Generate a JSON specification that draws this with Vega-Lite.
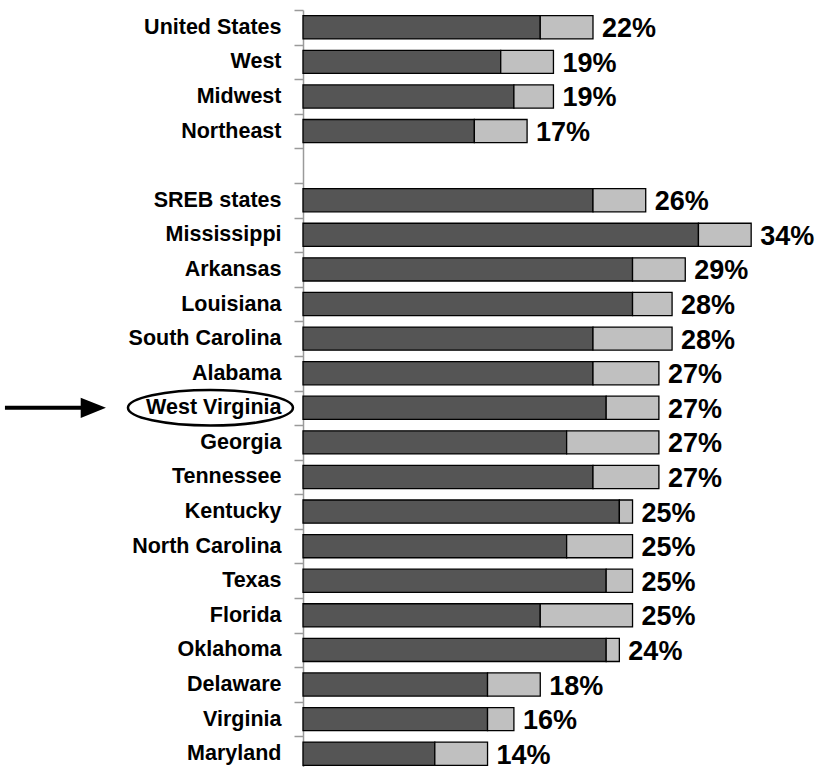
{
  "$schema": "https://vega.github.io/schema/vega-lite/v6.json",
  "autosize": "none",
  "padding": {"left": 303, "top": 10, "right": 0, "bottom": 0},
  "width": 515,
  "height": 757,
  "background": "white",
  "config": {
    "view": {"stroke": null},
    "font": "Liberation Sans"
  },
  "datasets": {
    "parts": [
      {"state": "United States", "part": "dark", "value": 18},
      {"state": "United States", "part": "light", "value": 4},
      {"state": "West", "part": "dark", "value": 15},
      {"state": "West", "part": "light", "value": 4},
      {"state": "Midwest", "part": "dark", "value": 16},
      {"state": "Midwest", "part": "light", "value": 3},
      {"state": "Northeast", "part": "dark", "value": 13},
      {"state": "Northeast", "part": "light", "value": 4},
      {"state": "SREB states", "part": "dark", "value": 22},
      {"state": "SREB states", "part": "light", "value": 4},
      {"state": "Mississippi", "part": "dark", "value": 30},
      {"state": "Mississippi", "part": "light", "value": 4},
      {"state": "Arkansas", "part": "dark", "value": 25},
      {"state": "Arkansas", "part": "light", "value": 4},
      {"state": "Louisiana", "part": "dark", "value": 25},
      {"state": "Louisiana", "part": "light", "value": 3},
      {"state": "South Carolina", "part": "dark", "value": 22},
      {"state": "South Carolina", "part": "light", "value": 6},
      {"state": "Alabama", "part": "dark", "value": 22},
      {"state": "Alabama", "part": "light", "value": 5},
      {"state": "West Virginia", "part": "dark", "value": 23},
      {"state": "West Virginia", "part": "light", "value": 4},
      {"state": "Georgia", "part": "dark", "value": 20},
      {"state": "Georgia", "part": "light", "value": 7},
      {"state": "Tennessee", "part": "dark", "value": 22},
      {"state": "Tennessee", "part": "light", "value": 5},
      {"state": "Kentucky", "part": "dark", "value": 24},
      {"state": "Kentucky", "part": "light", "value": 1},
      {"state": "North Carolina", "part": "dark", "value": 20},
      {"state": "North Carolina", "part": "light", "value": 5},
      {"state": "Texas", "part": "dark", "value": 23},
      {"state": "Texas", "part": "light", "value": 2},
      {"state": "Florida", "part": "dark", "value": 18},
      {"state": "Florida", "part": "light", "value": 7},
      {"state": "Oklahoma", "part": "dark", "value": 23},
      {"state": "Oklahoma", "part": "light", "value": 1},
      {"state": "Delaware", "part": "dark", "value": 14},
      {"state": "Delaware", "part": "light", "value": 4},
      {"state": "Virginia", "part": "dark", "value": 14},
      {"state": "Virginia", "part": "light", "value": 2},
      {"state": "Maryland", "part": "dark", "value": 10},
      {"state": "Maryland", "part": "light", "value": 4}
    ],
    "notes": [
      {"state": "West Virginia", "kind": "ellipse", "pos": -7.02},
      {"state": "West Virginia", "kind": "arrow", "pos": -18.78}
    ]
  },
  "encoding": {
    "y": {
      "field": "state",
      "type": "nominal",
      "scale": {
        "domain": ["United States", "West", "Midwest", "Northeast", "gap", "SREB states", "Mississippi", "Arkansas", "Louisiana", "South Carolina", "Alabama", "West Virginia", "Georgia", "Tennessee", "Kentucky", "North Carolina", "Texas", "Florida", "Oklahoma", "Delaware", "Virginia", "Maryland"],
        "range": [0, 761],
        "paddingInner": 0,
        "paddingOuter": 0
      },
      "axis": {
        "title": null,
        "labelExpr": "datum.value == 'gap' ? '' : datum.value",
        "tickBand": "extent",
        "tickSize": 9,
        "tickColor": "#9a9a9a",
        "domainColor": "#9a9a9a",
        "domainWidth": 1.5,
        "tickWidth": 1.5,
        "labelPadding": 13,
        "labelFontSize": 21.5,
        "labelFontWeight": "bold",
        "labelColor": "black",
        "labelFont": "Liberation Sans",
        "labelBaseline": "middle",
        "labelOffset": 0
      }
    }
  },
  "layer": [
    {
      "data": {"name": "parts"},
      "mark": {"type": "bar", "height": {"band": 0.67}, "stroke": "black", "strokeWidth": 1.3},
      "encoding": {
        "x": {"field": "value", "type": "quantitative", "stack": "zero", "scale": {"domain": [0, 39.07], "nice": false, "zero": true}, "axis": null},
        "color": {"field": "part", "type": "nominal", "scale": {"domain": ["dark", "light"], "range": ["#555555", "#c0c0c0"]}, "legend": null},
        "order": {"field": "part", "type": "nominal", "sort": "ascending"}
      }
    },
    {
      "data": {"name": "parts"},
      "transform": [
        {"aggregate": [{"op": "sum", "field": "value", "as": "total"}], "groupby": ["state"]}
      ],
      "mark": {"type": "text", "align": "left", "baseline": "middle", "dx": 9, "dy": 2, "fontSize": 27, "fontWeight": "bold", "color": "black", "font": "Liberation Sans", "text": {"expr": "datum.total + '%'"}},
      "encoding": {
        "x": {"field": "total", "type": "quantitative"}
      }
    },
    {
      "data": {"name": "notes"},
      "transform": [{"filter": "datum.kind == 'ellipse'"}],
      "mark": {"type": "point", "shape": "M -1 0 A 1 0.215 0 1 0 1 0 A 1 0.215 0 1 0 -1 0 Z", "size": 27225, "filled": false, "stroke": "black", "strokeWidth": 2.5, "opacity": 1, "clip": false},
      "encoding": {
        "x": {"field": "pos", "type": "quantitative"}
      }
    },
    {
      "data": {"name": "notes"},
      "transform": [{"filter": "datum.kind == 'arrow'"}],
      "mark": {"type": "point", "shape": "M -1 -0.04 L 0.5 -0.04 L 0.5 -0.2 L 1 0 L 0.5 0.2 L 0.5 0.04 L -1 0.04 Z", "size": 10200, "filled": true, "fill": "black", "strokeWidth": 0, "opacity": 1, "clip": false},
      "encoding": {
        "x": {"field": "pos", "type": "quantitative"}
      }
    }
  ]
}
